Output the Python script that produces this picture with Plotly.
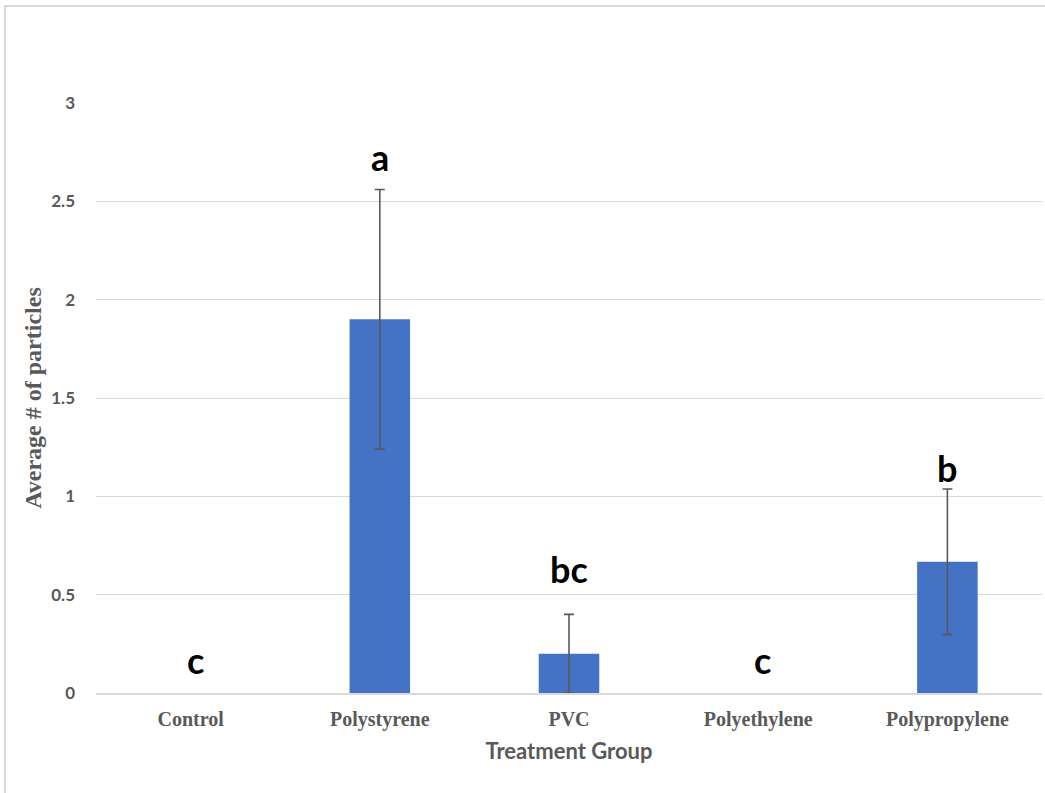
import plotly.graph_objects as go

# Mean particle counts per treatment group, with standard error
groups = ["Control", "Polystyrene", "PVC", "Polyethylene", "Polypropylene"]
means = [0, 1.9, 0.2, 0, 0.667]
errors = [0, 0.66, 0.2, 0, 0.37]
letters = ["c", "a", "bc", "c", "b"]
y_ticks = [0, 0.5, 1, 1.5, 2, 2.5, 3]

# Pixel offsets of the significance letters above each bar/whisker
letter_shift_y = [9, 9, 21, 9, -3]
letter_shift_x = [5, 0, 0, 4, 0]

BAR_COLOR = "#4472c4"
GREY = "#595959"

fig = go.Figure()
fig.add_trace(go.Bar(
    x=groups,
    y=means,
    width=0.32,
    marker=dict(color=BAR_COLOR, line=dict(width=0)),
    hoverinfo="skip",
))

# whiskers only for groups with a non-zero error
err_idx = [i for i, e in enumerate(errors) if e > 0]
fig.add_trace(go.Scatter(
    x=[groups[i] for i in err_idx],
    y=[means[i] for i in err_idx],
    mode="markers",
    marker=dict(size=1, opacity=0),
    error_y=dict(type="data", array=[errors[i] for i in err_idx], visible=True,
                 color=GREY, thickness=1.6, width=5),
    hoverinfo="skip",
))

for g, m, e, lab, sy, sx in zip(groups, means, errors, letters, letter_shift_y, letter_shift_x):
    fig.add_annotation(
        x=g, y=m + e, text=lab, showarrow=False,
        yanchor="bottom", yshift=sy, xshift=sx,
        font=dict(family="Lato", size=36, color="#000000", weight="bold"),
    )

# light outer frame around the chart area
fig.add_shape(type="rect", xref="paper", yref="paper",
              x0=-0.0962, x1=1.2, y0=-0.5, y1=1.1644,
              line=dict(color="#d9d9d9", width=2), fillcolor="rgba(0,0,0,0)",
              layer="below")

fig.update_layout(
    width=1045, height=793,
    margin=dict(l=96, r=3, t=103, b=100),
    paper_bgcolor="white", plot_bgcolor="white",
    showlegend=False,
    xaxis=dict(
        title=dict(text="<b>Treatment Group</b>", standoff=14,
                   font=dict(family="Lato", size=22, color=GREY)),
        tickfont=dict(family="Liberation Serif", size=20, color=GREY, weight="bold"),
        showline=True, linecolor="#d9d9d9", linewidth=1.5,
        ticks="", showgrid=False,
        ticklabelstandoff=7,
    ),
    yaxis=dict(
        title=dict(text="Average # of particles", standoff=2,
                   font=dict(family="Liberation Serif", size=24, color=GREY, weight="bold")),
        tickmode="array", tickvals=y_ticks,
        ticktext=[f"<b>{v:g}</b>" for v in y_ticks],
        tickfont=dict(family="Lato", size=17, color=GREY),
        range=[0, 3], showgrid=True, gridcolor="#d9d9d9", gridwidth=1.2,
        zeroline=False, showline=False, ticks="",
        ticklabelstandoff=20,
    ),
)

fig.write_html("out.html")
